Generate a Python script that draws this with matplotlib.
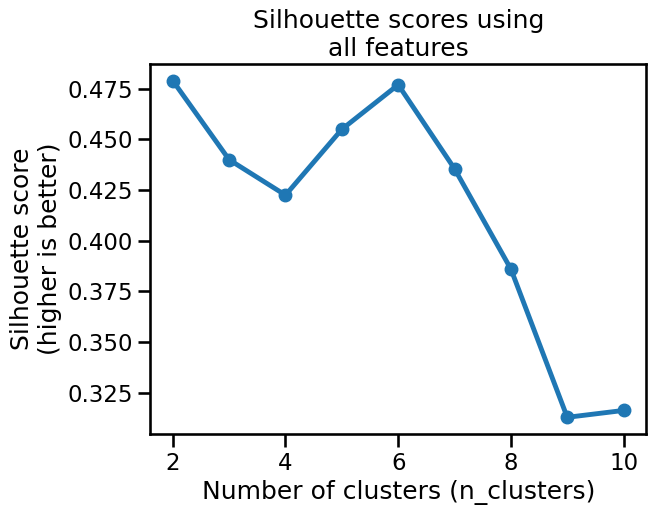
import numpy as np
import matplotlib.pyplot as plt
import seaborn as sns

sns.set_context('talk')

n_clusters = [2, 3, 4, 5, 6, 7, 8, 9, 10]
scores = [0.479, 0.440, 0.4225, 0.455, 0.477, 0.4355, 0.386, 0.3128, 0.3162]

fig, ax = plt.subplots(figsize=(6.56, 5.15), dpi=100)
fig.subplots_adjust(left=0.229, right=0.985, top=0.876, bottom=0.157)
ax.plot(n_clusters, scores, marker='o', color='#1f77b4', linewidth=3.5)
ax.set_xlabel('Number of clusters (n_clusters)')
ax.set_ylabel('Silhouette score\n(higher is better)')
ax.set_title('Silhouette scores using\nall features')
fig.savefig('out.png')
